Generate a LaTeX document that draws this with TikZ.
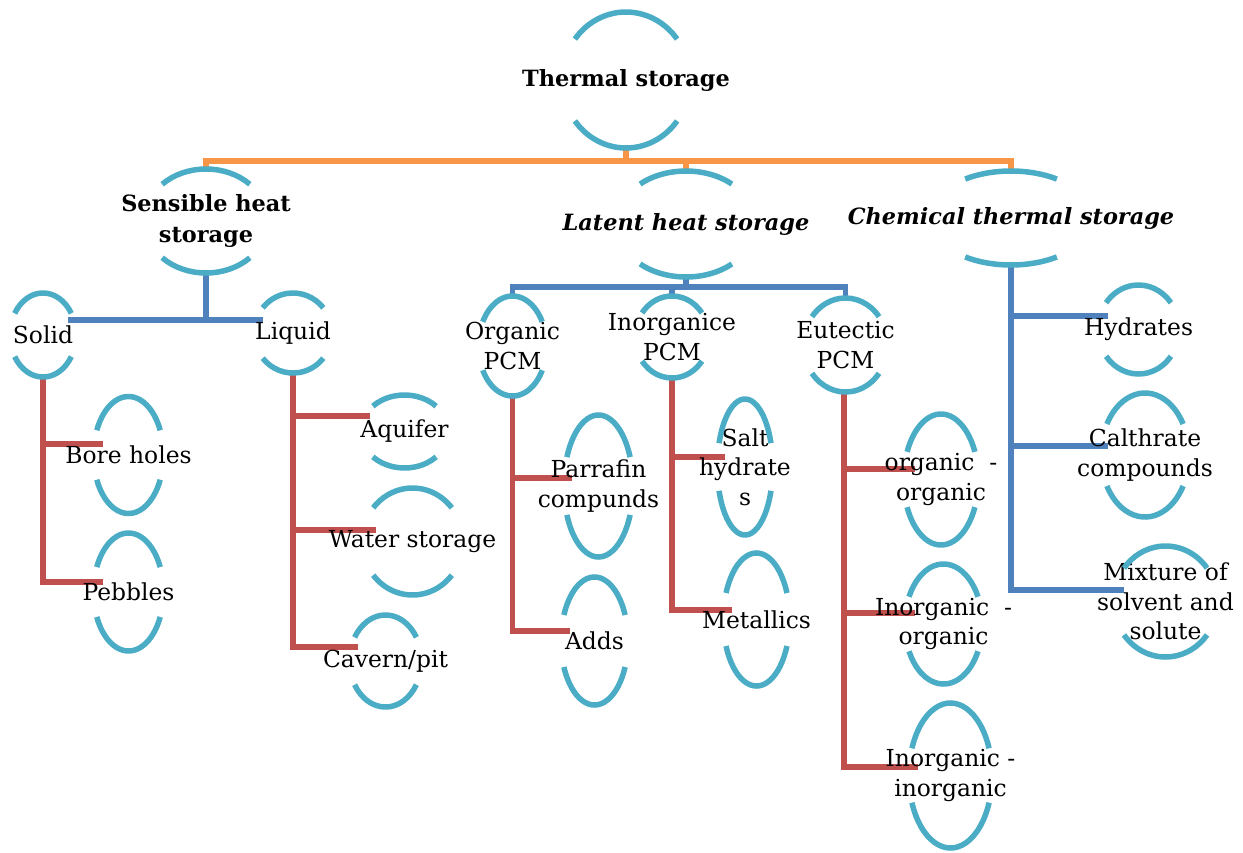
\documentclass[tikz,border=0pt]{standalone}
\usepackage{fontspec}
\setmainfont{DejaVu Serif}
\usetikzlibrary{calc}
\definecolor{arcc}{HTML}{4BACC6}
\definecolor{bluc}{HTML}{4F81BD}
\definecolor{redc}{HTML}{C0504D}
\definecolor{orgc}{HTML}{F79646}
\newcommand\bodyfont{\fontsize{23.4}{29.5}\selectfont}
\newcommand\headfont{\fontsize{22.4}{31}\selectfont\bfseries}
\pgfdeclarelayer{bg}
\pgfsetlayers{bg,main}
\tikzset{
  capbox/.style={rectangle, inner sep=0pt, align=center, font=\bodyfont},
  arcline/.style={draw=arcc, line width=5.5pt},
  bluln/.style={draw=bluc, line width=5.5pt},
  redln/.style={draw=redc, line width=5.5pt},
  orgln/.style={draw=orgc, line width=5.5pt},
}
% name, x, y, a, b, theta, options, text
\newcommand\capnode[8]{%
  \node[capbox, minimum width=2*#4, minimum height=2*#5, #7] (#1) at (#2,-#3) {#8};
  \draw[arcline] ([shift={(#6:#4 and #5)}]#1.center) arc[start angle=#6, end angle=180-#6, x radius=#4, y radius=#5];
  \draw[arcline] ([shift={(180+#6:#4 and #5)}]#1.center) arc[start angle=180+#6, end angle=360-#6, x radius=#4, y radius=#5];
}
\begin{document}
\begin{tikzpicture}[x=1pt, y=1pt]
\useasboundingbox (0,0) rectangle (1243,-852);

\capnode{thermal}{626}{80}{64}{68}{37}{font=\headfont}{Thermal storage}
\capnode{sensible}{206}{221}{62}{52}{45}{font=\headfont}{Sensible heat\\storage}
\capnode{latent}{686}{224}{70}{53}{49}{font=\headfont\itshape}{Latent heat storage}
\capnode{chemical}{1011}{218}{82}{47}{56}{font=\headfont\itshape}{Chemical thermal storage}
\capnode{solid}{43}{335}{33}{42}{31}{}{Solid}
\capnode{liquid}{293}{333}{39}{40}{39}{}{Liquid}
\capnode{bore}{128.5}{455}{35}{58.5}{25}{}{Bore holes}
\capnode{pebbles}{128.5}{592}{35}{59}{25}{}{Pebbles}
\capnode{aquifer}{404.5}{431.5}{44}{36.5}{44}{}{Aquifer}
\capnode{water}{412.5}{541.5}{50.6}{53.5}{39}{}{Water storage}
\capnode{cavern}{385.5}{661}{36}{46}{31}{}{Cavern/pit}
\capnode{organic}{512.5}{346}{34}{50}{29}{}{Organic\\PCM}
\capnode{inorganic}{672}{337}{37}{41}{36}{}{Inorganice\\PCM}
\capnode{eutectic}{845.5}{345}{42}{47}{37}{}{Eutectic\\PCM}
\capnode{parrafin}{598.5}{486}{34.6}{71}{24}{}{Parrafin\\compunds}
\capnode{adds}{594.5}{641}{33.5}{64}{24}{}{Adds}
\capnode{salt}{745}{467}{27.7}{68}{20.5}{}{Salt\\hydrate\\s}
\capnode{metallics}{756.5}{619.5}{33.2}{66.5}{23.5}{}{Metallics}
\capnode{oo}{941}{479.5}{37.4}{65.5}{25}{}{organic~~-\\organic}
\capnode{io}{943.5}{624}{38.7}{60}{27}{}{Inorganic~~-\\organic}
\capnode{ii}{950.5}{775.5}{41.6}{72.5}{22}{}{Inorganic -\\inorganic}
\capnode{hydrates}{1138.5}{329.5}{40.6}{44.5}{37}{}{Hydrates}
\capnode{calthrate}{1145}{455}{44}{62}{30}{}{Calthrate\\compounds}
\capnode{mixture}{1165.5}{601.5}{52}{55.5}{37}{}{Mixture of\\solvent and\\solute}

\begin{pgfonlayer}{bg}
% top level (orange)
\coordinate (ob) at ($(thermal.south)+(0,-13)$);
\draw[orgln] (thermal.south) -- (ob);
\draw[orgln] (sensible.north) -- (sensible.north |- ob) -- (chemical.north |- ob) -- (chemical.north);
\draw[orgln] (latent.north) -- (latent.north |- ob);
% sensible (blue)
\coordinate (sb) at ($(sensible.south)+(0,-47)$);
\draw[bluln] (sensible.south) -- (sb);
\draw[bluln] ($(solid.center)+(25,15)$) -- ($(liquid.center)+(-30,13)$);
% solid (red)
\draw[redln] (solid.south) |- ($(bore.center)+(-25.5,11)$);
\draw[redln] (solid.south) |- ($(pebbles.center)+(-25.5,10)$);
% liquid (red)
\draw[redln] (liquid.south) |- ($(aquifer.center)+(-34.5,15.5)$);
\draw[redln] (liquid.south) |- ($(water.center)+(-36.5,11.5)$);
\draw[redln] (liquid.south) |- ($(cavern.center)+(-27.5,14)$);
% latent (blue)
\coordinate (lb) at ($(latent.south)+(0,-10)$);
\draw[bluln] (latent.south) -- (lb);
\draw[bluln] (organic.north) -- (organic.north |- lb) -- (eutectic.north |- lb) -- (eutectic.north);
\draw[bluln] (inorganic.north) -- (inorganic.north |- lb);
% organic (red)
\draw[redln] (organic.south) |- ($(parrafin.center)+(-26.5,8)$);
\draw[redln] (organic.south) |- ($(adds.center)+(-24.5,10)$);
% inorganic (red)
\draw[redln] (inorganic.south) |- ($(salt.center)+(-20,10)$);
\draw[redln] (inorganic.south) |- ($(metallics.center)+(-24.5,9.5)$);
% eutectic (red)
\draw[redln] ([xshift=-1.5]eutectic.south) |- ($(oo.center)+(-26,10.5)$);
\draw[redln] ([xshift=-1.5]eutectic.south) |- ($(io.center)+(-28.5,11)$);
\draw[redln] ([xshift=-1.5]eutectic.south) |- ($(ii.center)+(-32.5,8.5)$);
% chemical (blue)
\draw[bluln] (chemical.south) |- ($(hydrates.center)+(-30.5,13.5)$);
\draw[bluln] (chemical.south) |- ($(calthrate.center)+(-37,9)$);
\draw[bluln] (chemical.south) |- ($(mixture.center)+(-41.5,11.5)$);
\end{pgfonlayer}
\end{tikzpicture}
\end{document}
